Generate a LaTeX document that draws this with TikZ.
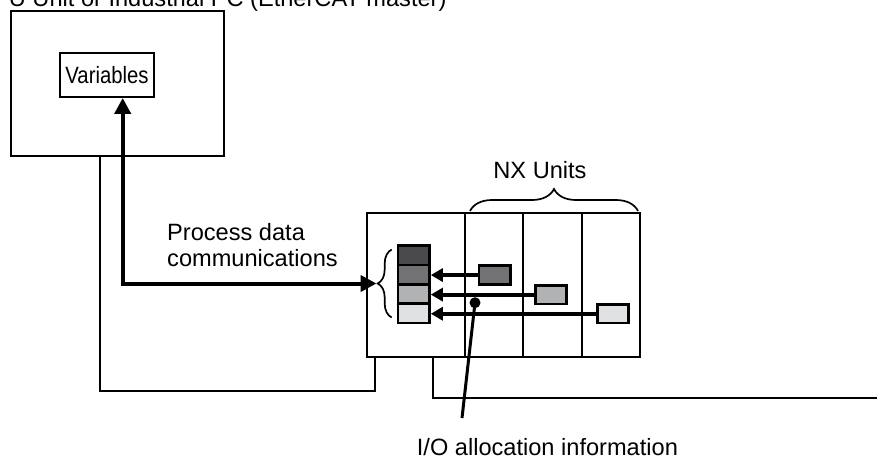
\documentclass[tikz,border=0pt]{standalone}
\usepackage{fontspec}
\setmainfont{Liberation Sans}
\usetikzlibrary{arrows.meta,decorations.pathreplacing,calc}
\definecolor{gA}{HTML}{4A4A4C}
\definecolor{gB}{HTML}{727274}
\definecolor{gC}{HTML}{B1B2B4}
\definecolor{gD}{HTML}{E0E1E2}
\begin{document}
\begin{tikzpicture}[x=1pt,y=-1pt,
  every node/.style={font=\fontsize{23.6}{28}\selectfont},
  frame/.style={draw, line width=1.9pt, fill=white, inner sep=0pt, anchor=north west},
  cell/.style={draw, line width=2.5pt, inner sep=0pt, anchor=north west, minimum width=31.6pt, minimum height=19.35pt},
  wire/.style={line width=1.6pt},
  bigarrow/.style={line width=4pt, {Triangle[length=16pt,width=16pt]}-{Triangle[length=16pt,width=16pt]}},
  smallarrow/.style={line width=4.2pt, -{Triangle[length=12pt,width=13pt]}},
  bracestyle/.style={line width=1.7pt, decorate},
  lbl/.style={inner sep=0pt}
]
\clip (0,0) rectangle (877,461);
\useasboundingbox (0,0) rectangle (877,461);

% title (cut off by the frame of the picture, as in the reference)
\node[lbl, anchor=base east] (title) at (446.7,6) {CPU Unit or Industrial PC (EtherCAT master)};

% CPU unit
\node[frame, minimum width=213pt, minimum height=145pt] (cpu) at (10,10) {};
\node[frame, anchor=center, minimum width=94pt, minimum height=44pt] (var) at (107,75) {\scalebox{0.86}[1]{Variables}};

% coupler and NX units
\node[frame, minimum width=98pt, minimum height=144pt] (coupler) at (366,212) {};
\node[frame, minimum width=58.3pt, minimum height=144pt] (nx1) at (464,212) {};
\node[frame, minimum width=58.4pt, minimum height=144pt] (nx2) at (522.3,212) {};
\node[frame, minimum width=58pt, minimum height=144pt] (nx3) at (580.7,212) {};

% cables
\draw[wire] ([xshift=90pt]cpu.south west) -- ++(0,234) -| ([xshift=9pt]coupler.south west);
\draw[wire] ([xshift=67pt]coupler.south west) |- (880,398);

% process data stack
\node[cell, fill=gA] (r1) at (396.7,244.3) {};
\node[cell, fill=gB] (r2) at (396.7,263.65) {};
\node[cell, fill=gC] (r3) at (396.7,283) {};
\node[cell, fill=gD] (r4) at (396.7,302.35) {};

% NX unit data
\node[cell, fill=gB, minimum height=19pt] (b1) at (477.7,264.3) {};
\node[cell, fill=gC, minimum width=31pt, minimum height=18.7pt] (b2) at (534,284) {};
\node[cell, fill=gD, minimum width=31.3pt, minimum height=18.4pt] (b3) at (596,303.3) {};

\draw[smallarrow] (b1.west) -- (b1.west -| r2.east);
\draw[smallarrow] (b2.west) -- (b2.west -| r3.east);
\draw[smallarrow] (b3.west) -- (b3.west -| r4.east);

% braces
\draw[bracestyle, decoration={brace, amplitude=14pt}] (391.7,317.5) -- (391.7,249.5);
\coordinate (brtip) at (376.5,283.5);
\draw[bracestyle, decoration={brace, amplitude=22pt}] (470,211) -- (638,211);

% process data communications arrow
\draw[bigarrow] (brtip) -| ([xshift=15.7pt]var.south);

% I/O allocation leader
\node[circle, fill=black, inner sep=0pt, minimum size=11pt] (dot) at (475,302.7) {};
\coordinate (leadend) at (462,418);
\draw[line width=3pt] (dot.center) -- (leadend);

% labels
\node[lbl, anchor=base] (nxl) at (540,178.3) {NX Units};
\node[lbl, anchor=base west] (pd1) at (167,240) {Process data};
\node[lbl, anchor=base west] (pd2) at (167,266.7) {communications};
\node[lbl, anchor=base west] (io) at (416.7,455) {I/O allocation information};
\end{tikzpicture}
\end{document}
